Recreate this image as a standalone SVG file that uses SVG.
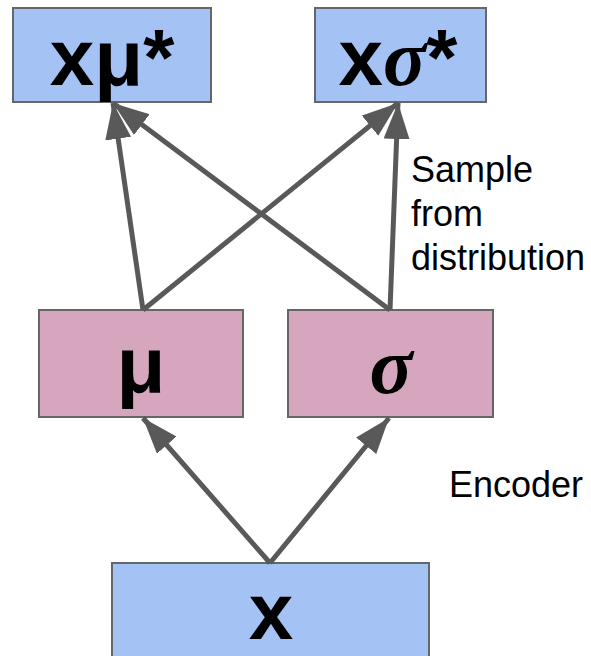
<svg xmlns="http://www.w3.org/2000/svg" width="591" height="656" viewBox="0 0 591 656">
  <style>
    .blue { fill: #a4c2f4; stroke: #666666; stroke-width: 2; }
    .pink { fill: #d5a6bd; stroke: #666666; stroke-width: 2; }
    .sym { font-family: "Liberation Sans", Arial, sans-serif; font-weight: bold; font-size: 80px; fill: #000000; text-anchor: middle; }
    .greek { font-family: "Liberation Serif", "DejaVu Serif", serif; font-style: italic; font-weight: bold; }
    .label { font-family: "Liberation Sans", Arial, sans-serif; font-size: 36px; fill: #000000; }
    .edge { stroke: #595959; stroke-width: 5; fill: none; marker-end: url(#head); }
  </style>
  <defs>
    <marker id="head" markerUnits="userSpaceOnUse" markerWidth="40" markerHeight="30" refX="36" refY="13" orient="auto">
      <path d="M0,0 L36,13 L0,26 Z" fill="#595959"/>
    </marker>
  </defs>

  <!-- nodes -->
  <g id="x-mu-star">
    <rect class="blue" x="13" y="8" width="198" height="94"/>
    <text class="sym" x="112" y="85">xμ*</text>
  </g>
  <g id="x-sigma-star">
    <rect class="blue" x="315" y="8" width="171" height="94"/>
    <text class="sym" x="398" y="85">x<tspan class="greek">σ</tspan>*</text>
  </g>
  <g id="mu">
    <rect class="pink" x="39" y="310" width="204" height="107"/>
    <text class="sym" x="141" y="392">μ</text>
  </g>
  <g id="sigma">
    <rect class="pink" x="288" y="310" width="205" height="107"/>
    <text class="sym greek" x="391" y="393">σ</text>
  </g>
  <g id="x">
    <rect class="blue" x="112" y="563" width="317" height="100"/>
    <text class="sym" x="271" y="639">x</text>
  </g>

  <!-- connectors -->
  <g id="connectors">
    <line class="edge" x1="270" y1="563" x2="143" y2="418"/>
    <line class="edge" x1="270" y1="563" x2="389" y2="418"/>
    <line class="edge" x1="143" y1="310" x2="113" y2="103"/>
    <line class="edge" x1="390" y1="310" x2="113" y2="103"/>
    <line class="edge" x1="143" y1="310" x2="398" y2="103"/>
    <line class="edge" x1="390" y1="310" x2="398" y2="103"/>
  </g>

  <!-- edge labels -->
  <g id="labels">
    <text class="label" x="411" y="182">Sample</text>
    <text class="label" x="411" y="226">from</text>
    <text class="label" x="411" y="270">distribution</text>
    <text class="label" x="449" y="497">Encoder</text>
  </g>
</svg>
